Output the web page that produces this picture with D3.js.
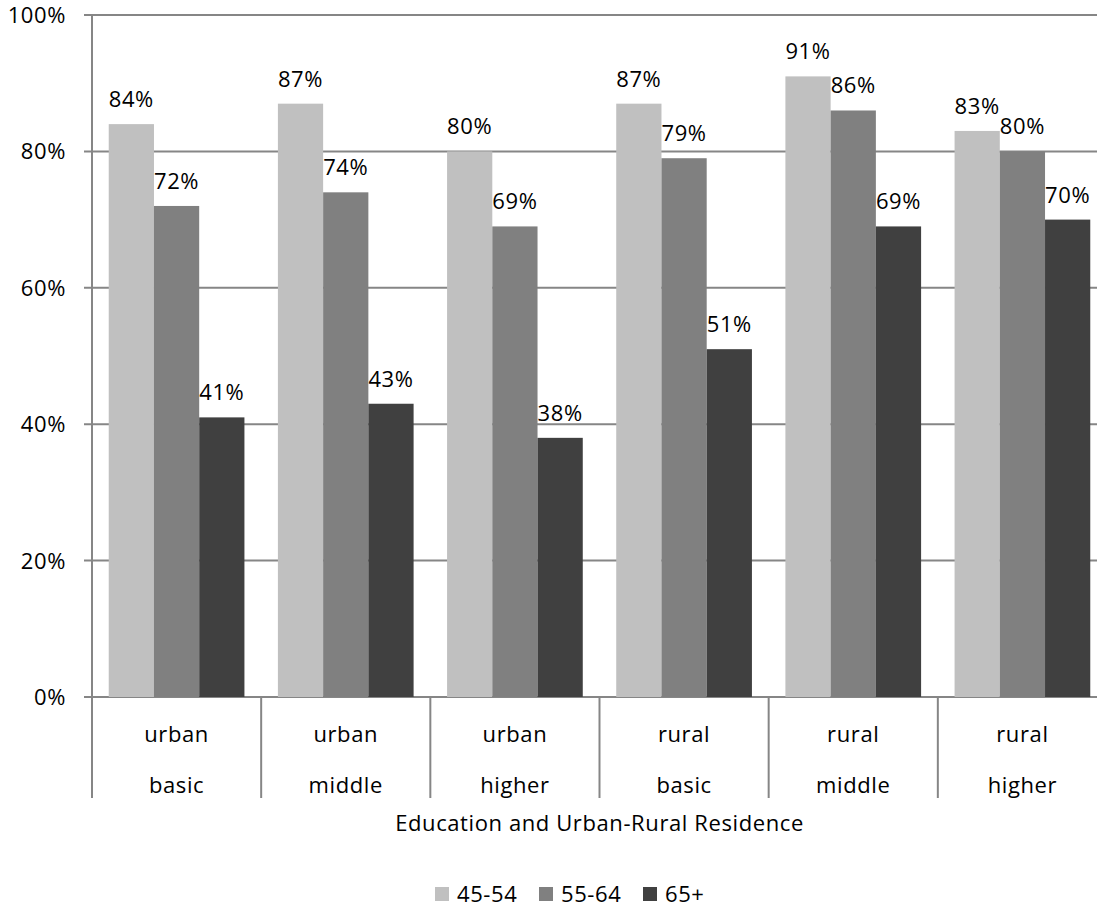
<!DOCTYPE html>
<html>
<head>
<meta charset="utf-8">
<script src="https://cdn.jsdelivr.net/npm/d3@7"></script>
<style>
  html, body { margin: 0; padding: 0; background: #fff; }
  svg { display: block; }
  text { font-family: "Open Sans", "DejaVu Sans", sans-serif; fill: #000; }
</style>
</head>
<body>
<svg id="chart" width="1097" height="909"></svg>
<script>
// Share by education level and residence, per age group
const categories = [
  ["urban", "basic"], ["urban", "middle"], ["urban", "higher"],
  ["rural", "basic"], ["rural", "middle"], ["rural", "higher"]
];
const seriesNames = ["45-54", "55-64", "65+"];
const values45_54 = [84, 87, 80, 87, 91, 83];
const values55_64 = [72, 74, 69, 79, 86, 80];
const values65plus = [41, 43, 38, 51, 69, 70];
const yTicks = [0, 20, 40, 60, 80, 100];
const colors = ["#c0c0c0", "#808080", "#404040"];
const xTitle = "Education and Urban-Rural Residence";

const seriesValues = [values45_54, values55_64, values65plus];

const svg = d3.select("#chart");
const plotLeft = 92, plotRight = 1107, plotTop = 15, plotBottom = 697, labelAreaBottom = 798;
const catKeys = categories.map((c, i) => i);

const x0 = d3.scaleBand().domain(catKeys).range([plotLeft, plotRight]).paddingInner(0).paddingOuter(0);
const x1 = d3.scaleBand().domain(seriesNames).range([0, x0.bandwidth()]).paddingInner(0).paddingOuter(0.37);
const y = d3.scaleLinear().domain([0, 100]).range([plotBottom, plotTop]);

const gridColor = "#868686";
const fontSize = 22;
const spacing = "0.6px";

// Horizontal gridlines
svg.append("g")
  .selectAll("line")
  .data(yTicks)
  .join("line")
  .attr("x1", plotLeft - 8)
  .attr("x2", plotRight)
  .attr("y1", d => y(d))
  .attr("y2", d => y(d))
  .attr("stroke", gridColor)
  .attr("stroke-width", 2);

// Y axis line (continues down through the category label area)
svg.append("line")
  .attr("x1", plotLeft).attr("x2", plotLeft)
  .attr("y1", plotTop).attr("y2", labelAreaBottom)
  .attr("stroke", gridColor).attr("stroke-width", 2);

// Y tick labels
svg.append("g")
  .selectAll("text")
  .data(yTicks)
  .join("text")
  .attr("x", plotLeft - 26)
  .attr("y", d => y(d) + 8)
  .attr("text-anchor", "end")
  .style("font-size", fontSize + "px")
  .style("letter-spacing", spacing)
  .text(d => d + "%");

// Bars
const groups = svg.append("g")
  .selectAll("g")
  .data(catKeys)
  .join("g")
  .attr("transform", d => `translate(${x0(d)},0)`);

groups.selectAll("rect")
  .data(i => seriesNames.map((s, k) => ({ s, k, v: seriesValues[k][i] })))
  .join("rect")
  .attr("x", d => x1(d.s))
  .attr("width", x1.bandwidth())
  .attr("y", d => y(d.v))
  .attr("height", d => y(0) - y(d.v))
  .attr("fill", d => colors[d.k]);

// Value labels
groups.selectAll("text")
  .data(i => seriesNames.map((s, k) => ({ s, k, v: seriesValues[k][i] })))
  .join("text")
  .attr("x", d => x1(d.s) + x1.bandwidth() / 2)
  .attr("y", d => y(d.v) - 17)
  .attr("text-anchor", "middle")
  .style("font-size", fontSize + "px")
  .style("letter-spacing", spacing)
  .text(d => d.v + "%");

// Category separators below the axis
svg.append("g")
  .selectAll("line")
  .data(catKeys.slice(1).concat([catKeys.length]))
  .join("line")
  .attr("x1", d => d < catKeys.length ? x0(d) : plotRight)
  .attr("x2", d => d < catKeys.length ? x0(d) : plotRight)
  .attr("y1", plotBottom)
  .attr("y2", labelAreaBottom)
  .attr("stroke", gridColor)
  .attr("stroke-width", 2);

// Two-line category labels
const catLabels = svg.append("g")
  .selectAll("text")
  .data(catKeys)
  .join("text")
  .attr("text-anchor", "middle")
  .style("font-size", fontSize + "px")
  .style("letter-spacing", spacing);
catLabels.append("tspan")
  .attr("x", d => x0(d) + x0.bandwidth() / 2)
  .attr("y", 742)
  .text(d => categories[d][0]);
catLabels.append("tspan")
  .attr("x", d => x0(d) + x0.bandwidth() / 2)
  .attr("y", 793)
  .text(d => categories[d][1]);

// Axis title
svg.append("text")
  .attr("x", (plotLeft + plotRight) / 2)
  .attr("y", 831)
  .attr("text-anchor", "middle")
  .style("font-size", fontSize + "px")
  .style("letter-spacing", spacing)
  .text(xTitle);

// Legend
const legendX = [435, 539, 643];
const legend = svg.append("g")
  .selectAll("g")
  .data(seriesNames)
  .join("g")
  .attr("transform", (d, i) => `translate(${legendX[i]},887)`);
legend.append("rect")
  .attr("width", 14).attr("height", 14)
  .attr("fill", (d, i) => colors[i]);
legend.append("text")
  .attr("x", 22)
  .attr("y", 15)
  .style("font-size", fontSize + "px")
  .style("letter-spacing", spacing)
  .text(d => d);
</script>
</body>
</html>
